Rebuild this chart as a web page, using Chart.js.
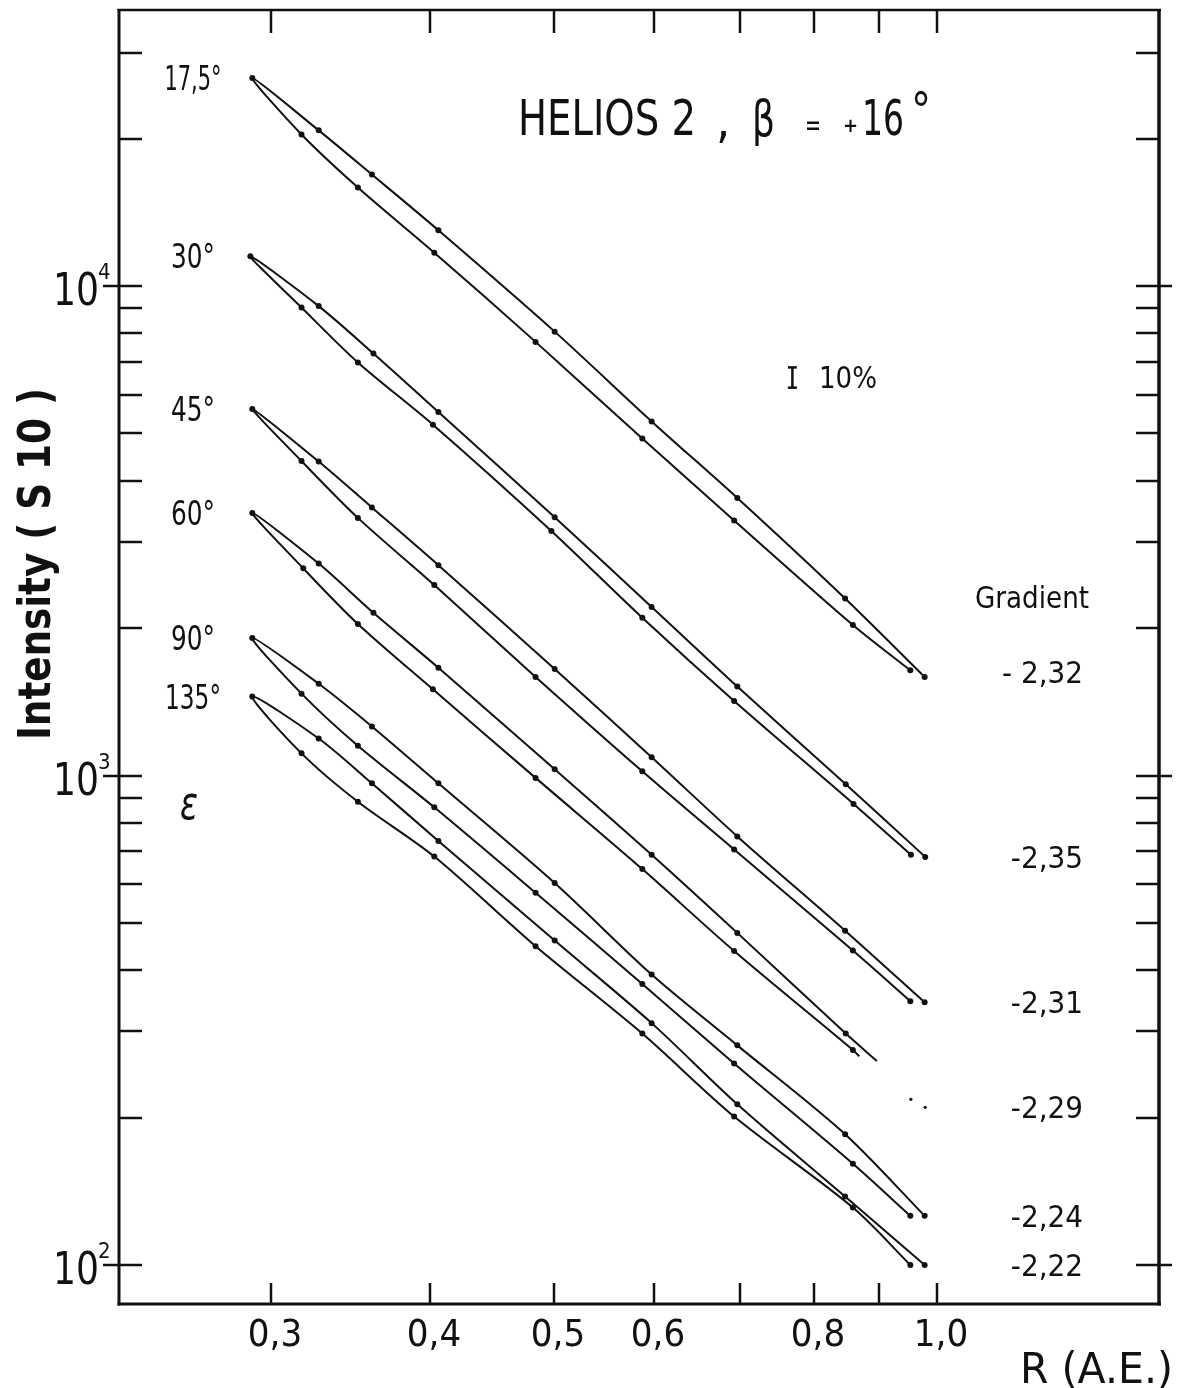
<!DOCTYPE html>
<html>
<head>
<meta charset="utf-8">
<title>HELIOS 2 - Intensity vs R</title>
<script src="https://cdn.jsdelivr.net/npm/chart.js@4.4.0/dist/chart.umd.min.js"></script>
<style>
  html, body { margin: 0; padding: 0; background: #fff; }
  #chart { display: block; }
</style>
</head>
<body>
<canvas id="chart" width="1185" height="1388"></canvas>
<script>
// R (A.E.) along each loop: end of lower branch -> perihelion tip -> end of upper branch
const rLoop = [0.953, 0.859, 0.693, 0.587, 0.484, 0.403, 0.351, 0.317, 0.290, 0.327, 0.360, 0.406, 0.501, 0.597, 0.697, 0.847, 0.978];
const r30   = [0.954, 0.860, 0.693, 0.587, 0.498, 0.402, 0.351, 0.317, 0.289, 0.327, 0.361, 0.406, 0.501, 0.597, 0.697, 0.848, 0.979];
const r60   = [0.869, 0.859, 0.693, 0.587, 0.484, 0.402, 0.351, 0.318, 0.290, 0.327, 0.361, 0.406, 0.501, 0.597, 0.697, 0.848, 0.897];

// intensity (S 10), same order as the R arrays
const i175 = [1640, 2030, 3320, 4880, 7690, 11700, 15900, 20400, 26600, 20800, 16900, 13000, 8070, 5290, 3690, 2300, 1590];
const i30  = [689, 875, 1420, 2100, 3160, 5210, 6980, 9040, 11500, 9100, 7280, 5530, 3370, 2210, 1520, 960, 682];
const i45  = [346, 439, 706, 1020, 1590, 2450, 3360, 4390, 5610, 4380, 3530, 2690, 1650, 1090, 751, 482, 344];
const i60  = [267, 275, 438, 644, 989, 1500, 2040, 2650, 3440, 2710, 2150, 1660, 1030, 689, 477, 297, 261];
const i90  = [126, 161, 258, 375, 576, 861, 1150, 1470, 1910, 1540, 1260, 964, 603, 392, 281, 185, 126];
const i135 = [100, 131, 201, 297, 448, 683, 884, 1110, 1450, 1190, 964, 735, 460, 312, 213, 138, 100];

// two stray end points of the 60 deg loop
const rTail60 = [0.954, 0.979];
const tail60 = [218, 210];

const angles = ['17,5°', '30°', '45°', '60°', '90°', '135°'];
const gradients = ['- 2,32', '-2,35', '-2,31', '-2,29', '-2,24', '-2,22'];

const xTicks = [0.3, 0.4, 0.5, 0.6, 0.7, 0.8, 0.9, 1.0];
const xTickLabels = ['0,3', '0,4', '0,5', '0,6', '', '0,8', '', '1,0'];
const yTicks = [100, 200, 300, 400, 500, 600, 700, 800, 900,
                1000, 2000, 3000, 4000, 5000, 6000, 7000, 8000, 9000,
                10000, 20000, 30000];
const yMajor = [100, 1000, 10000];
const yMajorExp = ['2', '3', '4'];

// the "I 10%" error bar
const errR = 0.77;
const errLo = 6200;
const errHi = 6820;

const ink = '#111';
const sans = "'DejaVu Sans Condensed', 'DejaVu Sans', sans-serif";

const seriesR = [rLoop, r30, rLoop, r60, rLoop, rLoop];
const seriesI = [i175, i30, i45, i60, i90, i135];

const datasets = seriesI.map((vals, k) => ({
  label: angles[k],
  data: vals.map((v, i) => ({ x: seriesR[k][i], y: v })),
  showLine: true,
  borderColor: ink,
  borderWidth: 2,
  tension: 0.3,
  fill: false,
  pointRadius: (c) => (k === 3 && (c.dataIndex === 0 || c.dataIndex === vals.length - 1)) ? 0 : 3,
  pointBackgroundColor: ink,
  pointBorderWidth: 0
}));
datasets.push({
  label: '60° ends',
  data: tail60.map((v, i) => ({ x: rTail60[i], y: v })),
  showLine: false,
  pointRadius: 1.6,
  pointBackgroundColor: ink,
  pointBorderWidth: 0
});

function fitText(ctx, text, x, y, width, align) {
  const w = ctx.measureText(text).width;
  const k = width ? width / w : 1;
  const dx = align === 'right' ? -w : align === 'center' ? -w / 2 : 0;
  ctx.save();
  ctx.translate(x, y);
  ctx.scale(k, 1);
  ctx.textAlign = 'left';
  ctx.fillText(text, dx, 0);
  ctx.restore();
}

function seg(ctx, x1, y1, x2, y2) {
  ctx.beginPath();
  ctx.moveTo(x1, y1);
  ctx.lineTo(x2, y2);
  ctx.stroke();
}

const paper = {
  id: 'paper',
  beforeDraw(chart) {
    const c = chart.ctx;
    c.save();
    c.fillStyle = '#fff';
    c.fillRect(0, 0, chart.width, chart.height);
    c.restore();
  },
  afterDraw(chart) {
    const { ctx, chartArea: a } = chart;
    const xs = chart.scales.x, ys = chart.scales.y;
    ctx.save();
    ctx.strokeStyle = ink;
    ctx.fillStyle = ink;
    ctx.textBaseline = 'alphabetic';

    // frame
    ctx.lineWidth = 3;
    seg(ctx, a.left, a.top - 1, a.left, a.bottom + 1.5);
    seg(ctx, a.left - 1.5, a.bottom, a.right + 2, a.bottom);
    ctx.lineWidth = 3.5;
    seg(ctx, a.right, a.top - 1, a.right, a.bottom + 1.5);
    ctx.lineWidth = 2.5;
    seg(ctx, a.left - 1.5, a.top, a.right + 2, a.top);

    // x ticks, inward on top and bottom
    ctx.lineWidth = 2.5;
    ctx.font = '38px ' + sans;
    xTicks.forEach((v, i) => {
      const px = Math.round(xs.getPixelForValue(v));
      seg(ctx, px, a.bottom, px, a.bottom - 21);
      seg(ctx, px, a.top, px, a.top + 23);
      if (xTickLabels[i]) fitText(ctx, xTickLabels[i], px + 4, a.bottom + 42, 0, 'center');
    });

    // y ticks on both sides
    yTicks.forEach(v => {
      const py = Math.round(ys.getPixelForValue(v));
      const major = yMajor.includes(v);
      seg(ctx, a.left - (major ? 16 : 0), py, a.left + 23, py);
      seg(ctx, a.right - 23, py, a.right + (major ? 13 : 0), py);
    });
    yMajor.forEach((v, i) => {
      const py = ys.getPixelForValue(v);
      ctx.font = '44px ' + sans;
      fitText(ctx, '10', 99, py + 19, 46, 'right');
      ctx.font = '22px ' + sans;
      fitText(ctx, yMajorExp[i], 98, py - 7, 0, 'left');
    });

    // axis titles
    ctx.font = '42px ' + sans;
    fitText(ctx, 'R (A.E.)', 1020, 1383, 153, 'left');
    ctx.save();
    ctx.translate(50, 740);
    ctx.rotate(-Math.PI / 2);
    ctx.font = 'bold 44px ' + sans;
    fitText(ctx, 'Intensity ( S 10 )', 0, 0, 352, 'left');
    ctx.restore();

    // title
    ctx.font = '50px ' + sans;
    fitText(ctx, 'HELIOS 2', 518, 135, 178, 'left');
    fitText(ctx, ',', 716, 137, 0, 'left');
    fitText(ctx, 'β', 752, 136, 23, 'left');
    fitText(ctx, '16', 862, 135, 42, 'left');
    fitText(ctx, '°', 911, 128, 20, 'left');
    ctx.font = '30px ' + sans;
    fitText(ctx, '=', 805, 135, 16, 'left');
    ctx.font = 'bold 20px ' + sans;
    fitText(ctx, '+', 843, 132, 0, 'left');

    // angle labels at the loop tips, gradients at the loop ends
    const labelW = [57, 44, 44, 44, 44, 56];
    seriesI.forEach((vals, k) => {
      ctx.font = '34px ' + sans;
      fitText(ctx, angles[k], 193, ys.getPixelForValue(vals[8]) + 12, labelW[k], 'center');
      const endVal = k === 3 ? tail60[tail60.length - 1] : vals[vals.length - 1];
      ctx.font = '31px ' + sans;
      fitText(ctx, gradients[k], 1083, ys.getPixelForValue(endVal) + (k === 0 ? 6 : 11), 0, 'right');
    });
    ctx.font = '31px ' + sans;
    fitText(ctx, 'Gradient', 975, 608, 114, 'left');

    // 10% error bar
    const ex = xs.getPixelForValue(errR);
    const e1 = ys.getPixelForValue(errLo), e2 = ys.getPixelForValue(errHi);
    ctx.lineWidth = 2.5;
    seg(ctx, ex, e1, ex, e2);
    seg(ctx, ex - 4.5, e1, ex + 4.5, e1);
    seg(ctx, ex - 4.5, e2, ex + 4.5, e2);
    fitText(ctx, '10%', 819, 388, 58, 'left');

    // epsilon
    ctx.font = 'italic 46px ' + sans;
    fitText(ctx, 'ε', 180, 819, 18, 'left');

    ctx.restore();
  }
};

new Chart(document.getElementById('chart'), {
  type: 'scatter',
  data: { datasets },
  options: {
    responsive: false,
    animation: false,
    layout: { padding: { left: 119, right: 26, top: 10, bottom: 84 } },
    plugins: {
      legend: { display: false },
      tooltip: { enabled: false }
    },
    scales: {
      x: { type: 'logarithmic', min: 0.2279, max: 1.494, display: false },
      y: { type: 'logarithmic', min: 83.24, max: 36640, display: false }
    }
  },
  plugins: [paper]
});
</script>
</body>
</html>
